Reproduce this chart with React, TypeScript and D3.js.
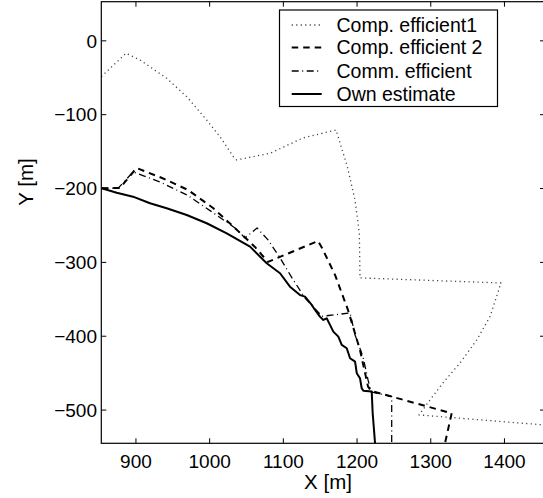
import React from "react";
import * as d3 from "d3";

const xTicks = [900, 1000, 1100, 1200, 1300, 1400];
const yTicks = [0, -100, -200, -300, -400, -500];
const xDomain = [853, 1455];
const yDomain = [-545, 53];

const legendLabels = ["Comp. efficient1", "Comp. efficient 2", "Comm. efficient", "Own estimate"];

// Comp. efficient1 (dotted)
const comp1: [number, number][] = [
  [853, -48.5], [886.5, -16.9], [905.5, -25.9], [941.7, -50.7], [968.9, -75.6], [996, -107.2],
  [1014, -129.8], [1032.1, -156.9], [1036.7, -161.3], [1081.9, -152.3], [1126.7, -131.5],
  [1171.5, -120.7], [1186.8, -170.4], [1197.2, -215.5], [1203.1, -260.6], [1204, -321],
  [1395.3, -327.9], [1380.4, -373.5], [1362.4, -405], [1339.7, -436.2], [1316.6, -463.2],
  [1299, -486.3], [1284, -506.6], [1452, -520],
];

// Comp. efficient 2 (dashed)
const comp2: [number, number][] = [
  [853.5, -199.6], [878.4, -199.2], [900.8, -172.2], [935.4, -185.7], [970.6, -201.9],
  [1004.6, -226.3], [1037.1, -256.1], [1061.5, -279.1], [1079.2, -299.4], [1147, -271],
  [1152.5, -280.5], [1170.1, -317], [1187.7, -364.4], [1204, -418.6], [1214.9, -468.3],
  [1219, -474], [1328.4, -504.3], [1319.3, -545],
];

// Comm. efficient (dash-dot)
const comm: [number, number][] = [
  [853.5, -199.6], [876, -199.5], [896.1, -177.5], [932.6, -191.1], [969.3, -208.7],
  [1003.2, -231.7], [1034.4, -253.4], [1048, -267], [1064.3, -253.4], [1079.2, -269.6],
  [1095.5, -294], [1111.7, -321], [1129.4, -348.2], [1152.5, -373], [1190.5, -368.5],
  [1197.3, -398.3], [1208.1, -428], [1214.9, -459.2], [1219, -475.4], [1247, -481.8],
  [1247, -545],
];

// Own estimate (solid)
const own: [number, number][] = [
  [853.5, -199.6], [873.9, -205.6], [896, -211], [919.1, -220], [941.7, -226.7], [968.9, -235.8],
  [996, -247], [1023.2, -260.6], [1054.8, -278.7], [1077.4, -301.2], [1095.5, -314.7],
  [1109, -332.9], [1122.6, -344.3], [1129.4, -346.4], [1138.5, -357.6], [1143, -364.4],
  [1149.6, -373.5], [1154.2, -378], [1158.8, -375.7], [1163.3, -384.7], [1167.8, -393.8],
  [1174.6, -400.6], [1179.2, -411.8], [1186, -416.3], [1190.5, -429.8], [1197.3, -434.4],
  [1199.6, -450.1], [1204, -456.9], [1206.3, -470.5], [1208.5, -473.7],
  [1219.9, -475], [1221.2, -504.3], [1223, -526.8], [1224.4, -545],
];

export default function App() {
  const W = 543, H = 498;
  const L = 101.3, T = 1.7, R = 545, B = 443.3;
  const x = d3.scaleLinear().domain(xDomain).range([L, R]);
  const y = d3.scaleLinear().domain(yDomain).range([B, T]);
  const line = d3.line<[number, number]>().x((d) => x(d[0])).y((d) => y(d[1]));
  const font = "'Liberation Sans', Arial, Helvetica, sans-serif";
  const series = [
    { data: comp1, stroke: "#444", width: 1.3, dash: "1.2,3.3" },
    { data: comp2, stroke: "#000", width: 2, dash: "6.5,5" },
    { data: comm, stroke: "#000", width: 1.3, dash: "7,3.5,1,3.5" },
    { data: own, stroke: "#000", width: 2, dash: "" },
  ];
  const legX1 = 291.7, legX2 = 321.7, legTextX = 336.5;
  const legRows = [25, 47.5, 71, 94];
  return (
    <svg width={W} height={H} style={{ position: "absolute", left: 0, top: 0, background: "#fff" }} fontFamily={font}>
      <defs>
        <clipPath id="plotclip">
          <rect x={L} y={T} width={R - L} height={B - T} />
        </clipPath>
      </defs>
      <rect x={0} y={0} width={W} height={H} fill="#fff" />
      <g clipPath="url(#plotclip)">
        {series.map((s, i) => (
          <path key={i} d={line(s.data) || ""} fill="none" stroke={s.stroke} strokeWidth={s.width}
            strokeDasharray={s.dash || undefined} strokeLinejoin="round" />
        ))}
      </g>
      <rect x={L} y={T} width={R - L} height={B - T} fill="none" stroke="#000" strokeWidth={1.2} />
      {xTicks.map((t) => (
        <g key={"x" + t}>
          <line x1={x(t)} x2={x(t)} y1={B} y2={B - 5} stroke="#000" strokeWidth={1} />
          <line x1={x(t)} x2={x(t)} y1={T} y2={T + 5} stroke="#000" strokeWidth={1} />
          <text x={x(t)} y={467.5} textAnchor="middle" fontSize={19}>{t}</text>
        </g>
      ))}
      {yTicks.map((t) => (
        <g key={"y" + t}>
          <line x1={L} x2={L + 5} y1={y(t)} y2={y(t)} stroke="#000" strokeWidth={1} />
          <line x1={R} x2={R - 5} y1={y(t)} y2={y(t)} stroke="#000" strokeWidth={1} />
          <text x={97} y={y(t) + 6.8} textAnchor="end" fontSize={19}>{t < 0 ? "\u2212" + Math.abs(t) : t}</text>
        </g>
      ))}
      <text x={328} y={488.5} textAnchor="middle" fontSize={20.5}>X [m]</text>
      <text transform="translate(33.3,182) rotate(-90)" textAnchor="middle" fontSize={20.5}>Y [m]</text>
      <rect x={279.5} y={10} width={218} height={96.5} fill="#fff" stroke="#000" strokeWidth={1.2} />
      {series.map((s, i) => (
        <g key={"l" + i}>
          <line x1={legX1} x2={legX2} y1={legRows[i]} y2={legRows[i]} stroke={s.stroke} strokeWidth={s.width}
            strokeDasharray={s.dash || undefined} />
          <text x={legTextX} y={legRows[i] + 6.8} fontSize={19.5}>{legendLabels[i]}</text>
        </g>
      ))}
    </svg>
  );
}
